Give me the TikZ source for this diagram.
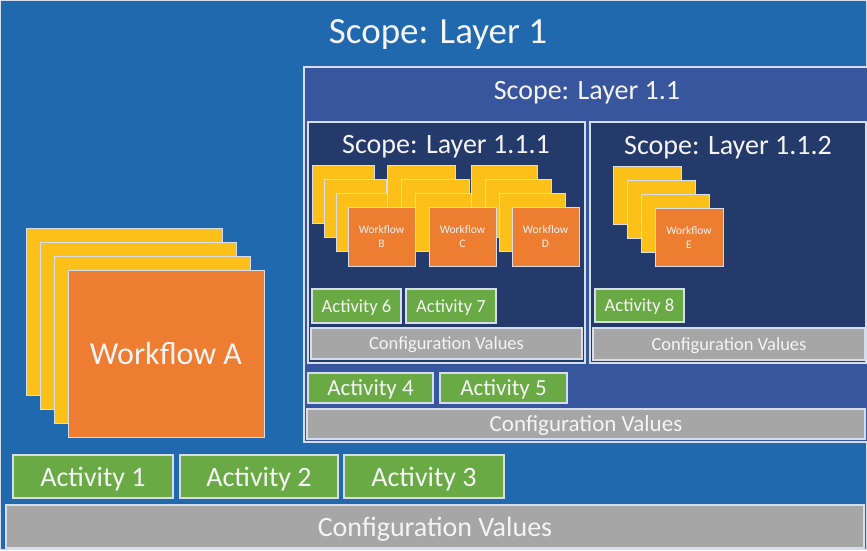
\documentclass[tikz,border=0pt]{standalone}
\usepackage{fontspec}
\setmainfont{Carlito}
\definecolor{layerA}{RGB}{33,105,174}
\definecolor{layerB}{RGB}{56,86,158}
\definecolor{layerC}{RGB}{36,58,106}
\definecolor{actgreen}{RGB}{106,170,68}
\definecolor{wforange}{RGB}{237,125,49}
\definecolor{wfyellow}{RGB}{252,192,24}
\definecolor{cfggray}{RGB}{166,166,166}
\definecolor{rim}{RGB}{214,222,236}
\definecolor{ink}{RGB}{244,244,244}
\begin{document}
\begin{tikzpicture}[x=1pt,y=-1pt,
  panel/.style={draw=rim, line width=1.2pt, inner sep=0pt, outer sep=0pt, anchor=north west, text=ink},
  scopeB/.style={panel, fill=layerB},
  scopeC/.style={panel, fill=layerC},
  actbox/.style={panel, fill=actgreen, text depth=0pt},
  cfgbox/.style={panel, fill=cfggray, text depth=0pt},
  card/.style={panel, fill=wfyellow, line width=1pt},
  wfcard/.style={panel, fill=wforange, line width=1pt, align=center},
  ttl/.style={text=ink, anchor=base, inner sep=0pt},
  fbig/.style={font=\fontsize{28}{32}\selectfont},
  fmid/.style={font=\fontsize{23}{27}\selectfont},
  fsmall/.style={font=\fontsize{18.5}{22}\selectfont},
  ftiny/.style={font=\fontsize{11.5}{14}\selectfont},
]
\useasboundingbox (0,0) rectangle (867,550);

% ---- Layer 1 ----
\node[panel, fill=layerA, minimum width=866pt, minimum height=549pt] (L1) at (0.5,0.5) {};
\node[ttl, font=\fontsize{37}{42}\selectfont] (t1) at (438,43) {Scope: Layer 1};

% ---- Layer 1.1 ----
\node[scopeB, minimum width=568pt, minimum height=375pt] (L11) at (304,67) {};
\node[ttl, fbig] (t11) at (587,99) {Scope: Layer 1.1};

% ---- Layer 1.1.1 and 1.1.2 ----
\node[scopeC, minimum width=277pt, minimum height=241pt] (L111) at (308,122) {};
\node[ttl, fbig] (t111) at (446,153) {Scope: Layer 1.1.1};
\node[scopeC, minimum width=276pt, minimum height=241pt] (L112) at (590,122) {};
\node[ttl, fbig] (t112) at (728,154) {Scope: Layer 1.1.2};

% ---- Workflow A stack ----
\foreach \x/\y [count=\i] in {26/228,40/242,54/256}
  \node[card, minimum width=196pt, minimum height=167pt] (yA\i) at (\x,\y) {};
\node[wfcard, minimum width=196pt, minimum height=167pt, font=\fontsize{32}{36}\selectfont] (wfA) at (68,270) {Workflow A};

% ---- small workflow stacks: back cards first, then front cards ----
\foreach \x/\y [count=\i] in {312/165,324/179,336/193}
  \node[card, minimum width=62pt, minimum height=58pt] (yB\i) at (\x,\y) {};
\foreach \x/\y [count=\i] in {387/165,401/179,415/193}
  \node[card, minimum width=68pt, minimum height=58pt] (yC\i) at (\x,\y) {};
\foreach \x/\y [count=\i] in {471/165,485/179,499/193}
  \node[card, minimum width=66pt, minimum height=58pt] (yD\i) at (\x,\y) {};
\foreach \x/\y [count=\i] in {613/166,627/180,641/194}
  \node[card, minimum width=68pt, minimum height=58pt] (yE\i) at (\x,\y) {};

\node[wfcard, ftiny, minimum width=67pt, minimum height=59pt] (wfB) at (348,207) {Workflow\\B};
\node[wfcard, ftiny, minimum width=67pt, minimum height=59pt] (wfC) at (429,207) {Workflow\\C};
\node[wfcard, ftiny, minimum width=67pt, minimum height=59pt] (wfD) at (512,207) {Workflow\\D};
\node[wfcard, ftiny, minimum width=68pt, minimum height=58pt] (wfE) at (655,208) {Workflow\\E};

% ---- activities and configuration values ----
\node[actbox, fsmall, minimum width=89pt, minimum height=34pt] (a6) at (312,289) {Activity 6};
\node[actbox, fsmall, minimum width=90pt, minimum height=34pt] (a7) at (406,289) {Activity 7};
\node[cfgbox, fsmall, minimum width=271pt, minimum height=31pt] (c111) at (311,328) {Configuration Values};

\node[actbox, fsmall, minimum width=89pt, minimum height=33pt] (a8) at (595,289) {Activity 8};
\node[cfgbox, fsmall, minimum width=272pt, minimum height=32pt] (c112) at (593,328) {Configuration Values};

\node[actbox, fmid, minimum width=125pt, minimum height=30pt] (a4) at (308,373) {Activity 4};
\node[actbox, fmid, minimum width=127pt, minimum height=30pt] (a5) at (440,373) {Activity 5};
\node[cfgbox, fmid, minimum width=558pt, minimum height=30pt] (c11) at (307,409) {Configuration Values};

\node[actbox, fbig, minimum width=160pt, minimum height=43pt] (a1) at (13,455) {Activity 1};
\node[actbox, fbig, minimum width=158pt, minimum height=43pt] (a2) at (180,455) {Activity 2};
\node[actbox, fbig, minimum width=160pt, minimum height=43pt] (a3) at (344,455) {Activity 3};
\node[cfgbox, fbig, minimum width=858pt, minimum height=43pt] (c1) at (6,505) {Configuration Values};
\end{tikzpicture}
\end{document}
